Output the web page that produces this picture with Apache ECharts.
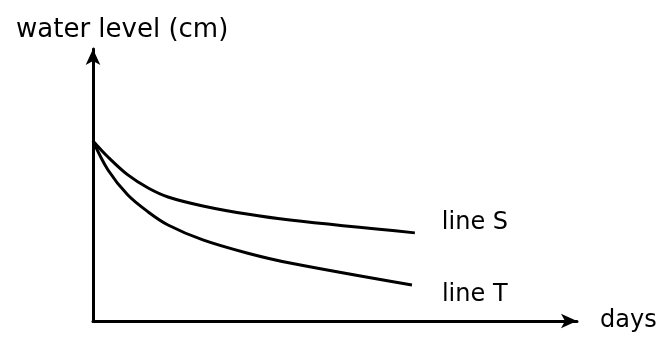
<!DOCTYPE html>
<html>
<head>
<meta charset="utf-8">
<script src="https://cdn.jsdelivr.net/npm/echarts@6/dist/echarts.min.js"></script>
<style>
  html, body { margin: 0; padding: 0; background: #fff; }
  #chart { width: 663px; height: 341px; }
</style>
</head>
<body>
<div id="chart"></div>
<script>
  // values (arbitrary units, 0-100 on both axes)
  var daysS = [0, 3.1, 7.2, 11.4, 15.5, 22.7, 31.8, 40.7, 66.5];
  var levelS = [66.2, 60.3, 53.7, 48.9, 45.6, 42.3, 39.3, 37.1, 32.4];
  var daysT = [0, 3.1, 7.2, 11.4, 15.5, 22.7, 31.8, 40.7, 65.9];
  var levelT = [66.2, 55.5, 46.3, 40.1, 35.3, 29.8, 25.0, 21.3, 13.2];
  var seriesNames = ['line S', 'line T'];

  function pairs(xs, ys) {
    var out = [];
    for (var i = 0; i < xs.length; i++) out.push([xs[i], ys[i]]);
    return out;
  }

  var font = 'DejaVu Sans';
  var chart = echarts.init(document.getElementById('chart'));
  var option = {
    animation: false,
    title: {
      text: 'water level (cm)',
      left: 11,
      top: 12,
      textStyle: { fontFamily: font, fontSize: 26, fontWeight: 'normal', color: '#000' }
    },
    grid: { left: 93, right: 86, top: 49, bottom: 20 },
    xAxis: {
      type: 'value',
      min: 0,
      max: 100,
      name: 'days',
      nameLocation: 'end',
      nameGap: 23,
      nameTextStyle: { fontFamily: font, fontSize: 24, color: '#000', verticalAlign: 'middle', padding: [4, 0, 0, 0] },
      axisLine: {
        show: true,
        symbol: ['none', 'arrow'],
        symbolSize: [11, 16],
        lineStyle: { color: '#000', width: 3 }
      },
      axisTick: { show: false },
      axisLabel: { show: false },
      splitLine: { show: false }
    },
    yAxis: {
      type: 'value',
      min: 0,
      max: 100,
      axisLine: {
        show: true,
        symbol: ['none', 'arrow'],
        symbolSize: [11, 16],
        lineStyle: { color: '#000', width: 3 }
      },
      axisTick: { show: false },
      axisLabel: { show: false },
      splitLine: { show: false }
    },
    series: [
      {
        name: seriesNames[0],
        type: 'line',
        smooth: 0.35,
        symbol: 'none',
        data: pairs(daysS, levelS),
        lineStyle: { color: '#000', width: 3 },
        endLabel: {
          show: true,
          formatter: '{a}',
          offset: [19, -10],
          fontFamily: font,
          fontSize: 24,
          color: '#000'
        }
      },
      {
        name: seriesNames[1],
        type: 'line',
        smooth: 0.35,
        symbol: 'none',
        data: pairs(daysT, levelT),
        lineStyle: { color: '#000', width: 3 },
        endLabel: {
          show: true,
          formatter: '{a}',
          offset: [22, 10],
          fontFamily: font,
          fontSize: 24,
          color: '#000'
        }
      }
    ]
  };
  chart.setOption(option);
</script>
</body>
</html>
